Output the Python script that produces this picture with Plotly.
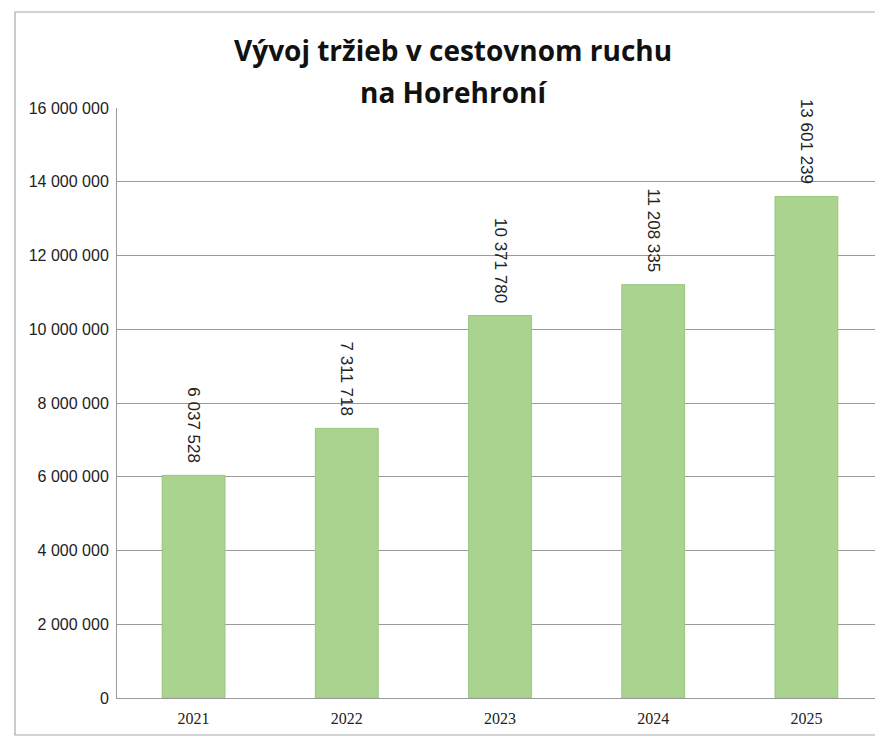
import plotly.graph_objects as go

years = ["2021", "2022", "2023", "2024", "2025"]
revenues = [6037528, 7311718, 10371780, 11208335, 13601239]
y_ticks = [0, 2000000, 4000000, 6000000, 8000000, 10000000, 12000000, 14000000, 16000000]
y_tick_labels = ["0", "2 000 000", "4 000 000", "6 000 000", "8 000 000",
                 "10 000 000", "12 000 000", "14 000 000", "16 000 000"]
title_lines = ["Vývoj tržieb v cestovnom ruchu", "na Horehroní"]

def fmt(v):
    return f"{v:,}".replace(",", " ") + "\u00a0\u00a0"

# page body has an 8px margin; figure is sized to fill the rest of the window
OFF = 8
W, H = 883 - OFF, 736 - OFF
L, R, T, B = 117 - OFF, 0, 108 - OFF, 736 - 698
PW, PH = W - L - R, H - T - B

def px_to_paper(px, py):
    fx, fy = px - OFF, py - OFF
    return (fx - L) / PW, 1 - (fy - T) / PH

fig = go.Figure(go.Bar(
    x=years, y=revenues,
    marker=dict(color="#aad38f", line=dict(color="#98c67e", width=1)),
    width=0.41,
    text=[fmt(v) for v in revenues],
    textposition="outside",
    textangle=90,
    constraintext="none",
    cliponaxis=False,
    textfont=dict(family="Liberation Sans", size=17, color="#222"),
))

t1 = px_to_paper(453, 50)
t2 = px_to_paper(453, 92)
f0 = px_to_paper(15, 12)
f1 = px_to_paper(890, 735)

fig.update_layout(
    width=W, height=H,
    margin=dict(l=L, r=R, t=T, b=B),
    paper_bgcolor="white", plot_bgcolor="white",
    showlegend=False,
    font=dict(family="Liberation Sans", color="#222"),
    annotations=[
        dict(text=title_lines[0], x=t1[0], y=t1[1], xref="paper", yref="paper", showarrow=False,
             xanchor="center", yanchor="middle",
             font=dict(family="Open Sans", size=28, color="#111", weight="bold")),
        dict(text=title_lines[1], x=t2[0], y=t2[1], xref="paper", yref="paper", showarrow=False,
             xanchor="center", yanchor="middle",
             font=dict(family="Open Sans", size=28, color="#111", weight="bold")),
    ],
    shapes=[dict(type="rect", xref="paper", yref="paper", x0=f0[0], x1=f1[0], y0=f1[1], y1=f0[1],
                 line=dict(color="#a8a8a8", width=1.2), layer="below")],
)

fig.update_yaxes(
    range=[0, 16000000], tickvals=y_ticks, ticktext=y_tick_labels,
    showgrid=True, gridcolor="#9a9a9a", gridwidth=1,
    showline=True, linecolor="#9a9a9a", linewidth=1,
    ticks="", ticklabelstandoff=4,
    tickfont=dict(family="Liberation Sans", size=16, color="#222"),
    zeroline=False,
)
fig.update_xaxes(
    range=[-0.5, 4.5],
    showline=True, linecolor="#9a9a9a", linewidth=1,
    ticks="", ticklabelstandoff=6,
    tickfont=dict(family="Liberation Sans Narrow", size=16, color="#222"),
)

fig.write_html("out.html")
